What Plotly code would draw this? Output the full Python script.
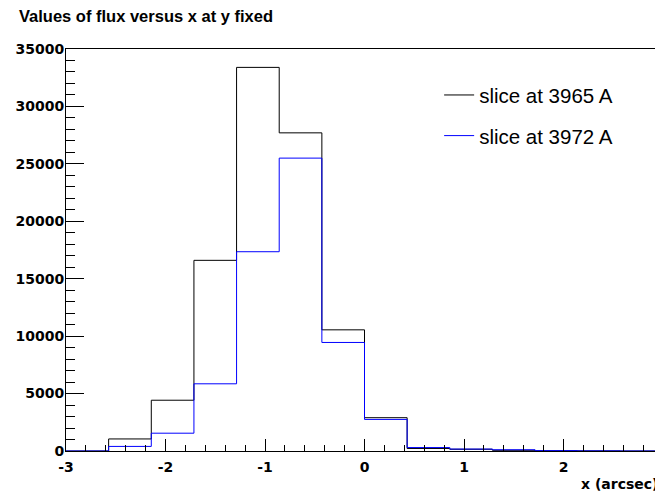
import numpy as np
import plotly.graph_objects as go

# histogram binning (ROOT TH1 style): 14 bins from -3 to 3 arcsec
n_bins = 14
x_min, x_max = -3.0, 3.0

# flux per bin
flux_3965 = [0, 1050, 4420, 16600, 33400, 27700, 10550, 2900, 220, 150, 60, 20, 10, 0]
flux_3972 = [0, 400, 1550, 5850, 17350, 25500, 9450, 2750, 300, 170, 110, 30, 10, 0]
names = ["slice at 3965 A", "slice at 3972 A"]
colors = ["#000000", "#0000ff"]

# axis tick labels (ROOT uses a plain hyphen for the minus sign)
x_ticks = [-3, -2, -1, 0, 1, 2, 3]
x_ticklabels = ["-3", "-2", "-1", "0", "1", "2", "3"]

edges = np.linspace(x_min, x_max, n_bins + 1)

fig = go.Figure()
for i, (vals, name, col) in enumerate(zip([flux_3965, flux_3972], names, colors)):
    y = list(vals) + [vals[-1]]
    fig.add_trace(go.Scatter(x=edges, y=y, mode="lines", name=name,
                             line=dict(color=col, width=1, shape="hv"),
                             legendgroup="g%d" % i))

# page body has an 8px margin, so the figure is 8px smaller than the window
W, H = 655, 485
tick_font = dict(family="DejaVu Sans", size=14, color="black", weight="bold")

fig.update_layout(
    width=W, height=H,
    margin=dict(l=58, r=0, t=41, b=42, autoexpand=False),
    plot_bgcolor="white", paper_bgcolor="white",
    title=dict(text="Values of flux versus x at y fixed",
               font=dict(family="Liberation Sans", size=16.5, color="black", weight="bold"),
               x=11 / W, xanchor="left", xref="container",
               y=1 - 8 / H, yanchor="middle", yref="container"),
    showlegend=True,
    legend=dict(x=0.625, y=0.935, xanchor="left", yanchor="top",
                bgcolor="rgba(0,0,0,0)", borderwidth=0,
                font=dict(family="Liberation Sans", size=20.5, color="black"),
                tracegroupgap=11, itemwidth=30),
    xaxis=dict(range=[x_min, x_max], showgrid=False, zeroline=False,
               showline=True, linecolor="black", linewidth=1, mirror=True,
               ticks="inside", ticklen=12, tickcolor="black", tickwidth=1,
               tickmode="array", tickvals=x_ticks, ticktext=x_ticklabels,
               tickfont=tick_font, ticklabelstandoff=3, ticklabeloverflow="allow",
               minor=dict(ticks="inside", ticklen=6, dtick=0.2, tickcolor="black", showgrid=False),
               automargin=False),
    yaxis=dict(range=[0, 35000], showgrid=False, zeroline=False,
               showline=True, linecolor="black", linewidth=1,
               ticks="inside", ticklen=18, tickcolor="black", tickwidth=1,
               dtick=5000, tickfont=tick_font, tickformat="d", ticklabelstandoff=-2,
               minor=dict(ticks="inside", ticklen=9, dtick=1000, tickcolor="black", showgrid=False),
               automargin=False),
    annotations=[dict(text="x (arcsec)", xref="paper", yref="paper",
                      x=1, y=0, xanchor="right", yanchor="middle", xshift=-3, yshift=-33,
                      showarrow=False,
                      font=dict(family="DejaVu Sans", size=14, color="black", weight="bold"))],
)

fig.write_html("out.html")
